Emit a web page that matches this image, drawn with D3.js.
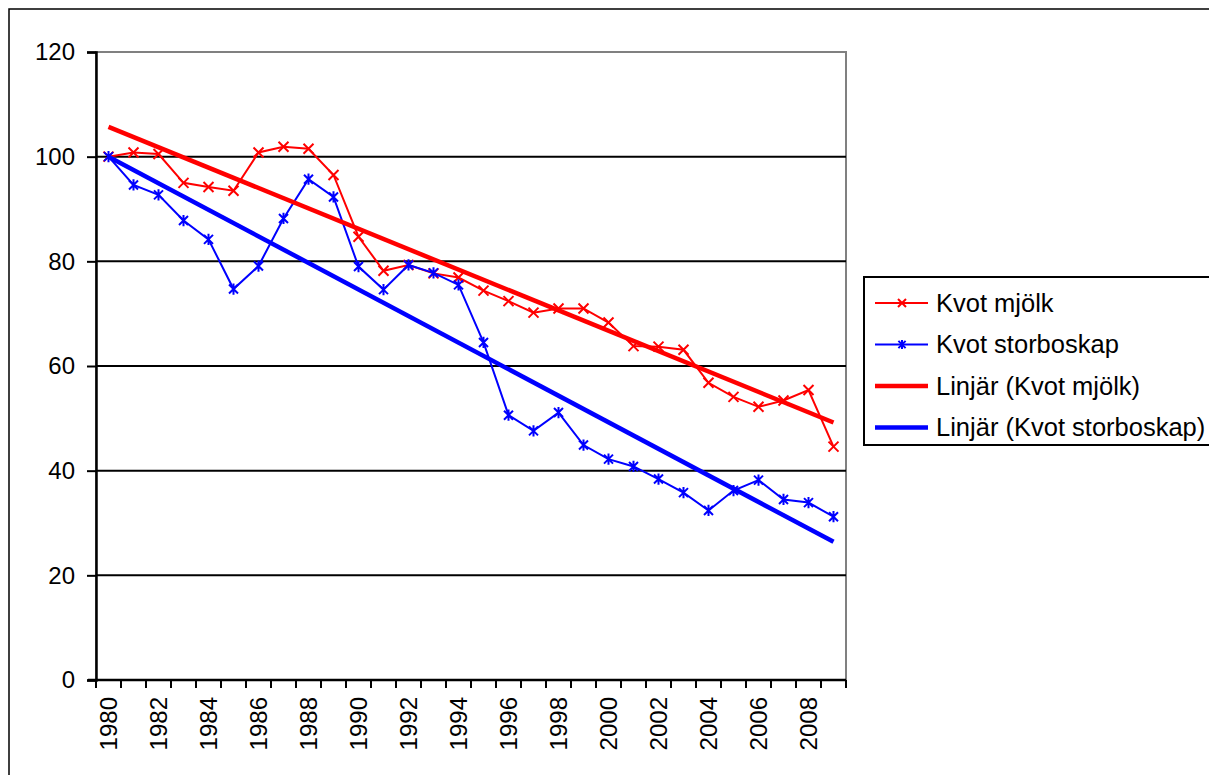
<!DOCTYPE html>
<html>
<head>
<meta charset="utf-8">
<script src="https://cdn.jsdelivr.net/npm/d3@7"></script>
<style>
  body { margin: 0; background: #fff; }
  svg { font-family: "Liberation Sans", Arial, sans-serif; }
</style>
</head>
<body>
<svg id="chart" width="1209" height="775"></svg>
<script>
// years on the category axis
const years = d3.range(1980, 2010);

// series
const kvotMjolk = [100, 100.8, 100.5, 95.0, 94.2, 93.5, 100.8, 101.9, 101.5, 96.5,
  84.7, 78.2, 79.3, 77.7, 76.9, 74.4, 72.4, 70.2, 71.0, 71.0,
  68.3, 63.8, 63.7, 63.1, 56.8, 54.1, 52.2, 53.4, 55.4, 44.6];
const kvotStorboskap = [100, 94.6, 92.7, 87.8, 84.2, 74.7, 79.1, 88.2, 95.7, 92.3,
  79.0, 74.6, 79.3, 77.8, 75.5, 64.5, 50.6, 47.6, 51.1, 44.9,
  42.2, 40.8, 38.4, 35.8, 32.4, 36.2, 38.2, 34.5, 33.9, 31.2];

// linear trend lines, start and end values
const trendMjolk = [105.7, 49.2];
const trendStorboskap = [100.0, 26.4];

const yTicks = [0, 20, 40, 60, 80, 100, 120];
const legendLabels = ["Kvot mjölk", "Kvot storboskap", "Linjär (Kvot mjölk)", "Linjär (Kvot storboskap)"];

const svg = d3.select("#chart");

// outer chart border (runs off the right and bottom edge)
svg.append("rect")
  .attr("x", 9).attr("y", 9)
  .attr("width", 1260).attr("height", 800)
  .attr("fill", "#fff").attr("stroke", "#000").attr("stroke-width", 1.5);

const plot = { left: 96, top: 52, right: 846, bottom: 680 };

const x = d3.scaleBand()
  .domain(years)
  .range([plot.left, plot.right]);

const y = d3.scaleLinear()
  .domain([0, 120])
  .range([plot.bottom, plot.top]);

const cx = d => x(d) + x.bandwidth() / 2;

// plot area frame (grey)
svg.append("rect")
  .attr("x", plot.left).attr("y", plot.top)
  .attr("width", plot.right - plot.left).attr("height", plot.bottom - plot.top)
  .attr("fill", "none").attr("stroke", "#808080").attr("stroke-width", 2);

// gridlines
svg.append("g")
  .selectAll("line")
  .data(yTicks.filter(t => t > 0 && t < 120))
  .enter().append("line")
  .attr("x1", plot.left).attr("x2", plot.right)
  .attr("y1", d => y(d)).attr("y2", d => y(d))
  .attr("stroke", "#000").attr("stroke-width", 2);

// y axis
const yAxis = svg.append("g")
  .attr("transform", `translate(${plot.left},0)`)
  .call(d3.axisLeft(y).tickValues(yTicks).tickSize(9).tickPadding(12));
yAxis.select(".domain").attr("stroke", "#000").attr("stroke-width", 2.5);
yAxis.selectAll(".tick line").attr("stroke", "#000").attr("stroke-width", 2);
yAxis.selectAll("text").attr("font-size", 24).attr("fill", "#000")
  .attr("font-family", "Liberation Sans, Arial, sans-serif");

// x axis: ticks at category boundaries, labels every second year
const xg = svg.append("g");
xg.append("line")
  .attr("x1", plot.left - 8).attr("x2", plot.right)
  .attr("y1", plot.bottom).attr("y2", plot.bottom)
  .attr("stroke", "#000").attr("stroke-width", 2.5);
xg.selectAll(".tk")
  .data(years.concat([2010]))
  .enter().append("line")
  .attr("class", "tk")
  .attr("x1", d => d === 2010 ? plot.right : x(d))
  .attr("x2", d => d === 2010 ? plot.right : x(d))
  .attr("y1", plot.bottom).attr("y2", plot.bottom + 8)
  .attr("stroke", "#000").attr("stroke-width", 2);
xg.selectAll(".lbl")
  .data(years.filter(d => d % 2 === 0))
  .enter().append("text")
  .attr("class", "lbl")
  .attr("transform", d => `translate(${cx(d)},${plot.bottom + 17}) rotate(-90)`)
  .attr("text-anchor", "end")
  .attr("dy", "0.35em")
  .attr("font-size", 24)
  .text(d => d);

// trend lines
const trendLine = d3.line().x(d => cx(d[0])).y(d => y(d[1]));
function drawTrend(vals, color) {
  svg.append("path")
    .datum([[years[0], vals[0]], [years[years.length - 1], vals[1]]])
    .attr("d", trendLine)
    .attr("fill", "none")
    .attr("stroke", color)
    .attr("stroke-width", 4.5)
    .attr("stroke-linecap", "butt");
}

// data lines
const line = d3.line().x((d, i) => cx(years[i])).y(d => y(d));

function crossPath(s) {
  return `M${-s},${-s}L${s},${s}M${-s},${s}L${s},${-s}`;
}
function starPath(s) {
  return crossPath(s) + `M0,${-s * 1.25}L0,${s * 1.25}`;
}

function drawSeries(vals, color, markerPath) {
  svg.append("path")
    .datum(vals)
    .attr("d", line)
    .attr("fill", "none")
    .attr("stroke", color)
    .attr("stroke-width", 2);
  svg.append("g")
    .selectAll("path")
    .data(vals)
    .enter().append("path")
    .attr("transform", (d, i) => `translate(${cx(years[i])},${y(d)})`)
    .attr("d", markerPath)
    .attr("fill", "none")
    .attr("stroke", color)
    .attr("stroke-width", 2);
}

drawSeries(kvotMjolk, "#ff0000", crossPath(5));
drawSeries(kvotStorboskap, "#0000ff", starPath(4.5));
drawTrend(trendMjolk, "#ff0000");
drawTrend(trendStorboskap, "#0000ff");

// legend
const lg = svg.append("g").attr("transform", "translate(864,277)");
lg.append("rect")
  .attr("width", 400).attr("height", 168)
  .attr("fill", "#fff").attr("stroke", "#000").attr("stroke-width", 2);

const legendItems = [
  { color: "#ff0000", width: 2, marker: crossPath(4) },
  { color: "#0000ff", width: 2, marker: starPath(3.6) },
  { color: "#ff0000", width: 4.5, marker: null },
  { color: "#0000ff", width: 4.5, marker: null }
];

legendItems.forEach((it, i) => {
  const ly = 26 + i * 41.5;
  lg.append("line")
    .attr("x1", 11).attr("x2", 64)
    .attr("y1", ly).attr("y2", ly)
    .attr("stroke", it.color).attr("stroke-width", it.width);
  if (it.marker) {
    lg.append("path")
      .attr("transform", `translate(38,${ly})`)
      .attr("d", it.marker)
      .attr("fill", "none").attr("stroke", it.color).attr("stroke-width", 2);
  }
  lg.append("text")
    .attr("x", 72).attr("y", ly)
    .attr("dy", "0.35em")
    .attr("font-size", 25.5)
    .text(legendLabels[i]);
});
</script>
</body>
</html>
